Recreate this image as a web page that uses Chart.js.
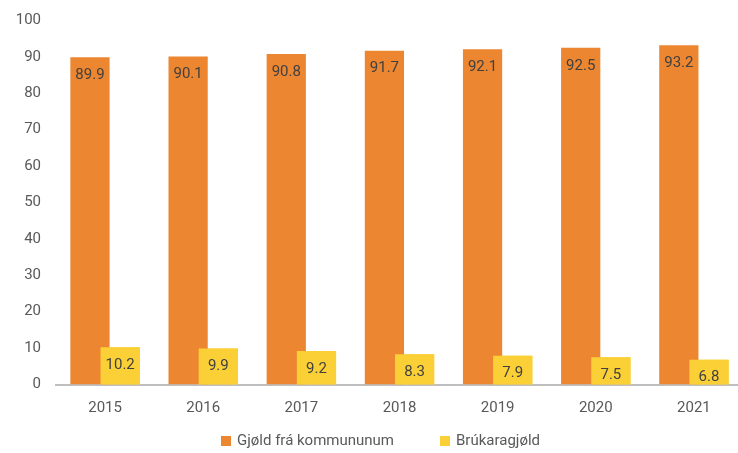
<!DOCTYPE html>
<html>
<head>
<meta charset="utf-8">
<script src="https://cdn.jsdelivr.net/npm/chart.js@4.4.0/dist/chart.umd.min.js"></script>
<style>
  html, body { margin: 0; padding: 0; background: #ffffff; overflow: hidden; }
  #wrap { width: 743px; height: 453px; position: relative; }
</style>
</head>
<body>
<div id="wrap"><canvas id="c"></canvas></div>
<script>
const categories = ["2015", "2016", "2017", "2018", "2019", "2020", "2021"];
const municipalFees = [89.9, 90.1, 90.8, 91.7, 92.1, 92.5, 93.2];
const userFees = [10.2, 9.9, 9.2, 8.3, 7.9, 7.5, 6.8];
const seriesNames = ["Gjøld frá kommununum", "Brúkaragjøld"];
const yTicks = [0, 10, 20, 30, 40, 50, 60, 70, 80, 90, 100];

const ORANGE = "#ec8630";
const YELLOW = "#fad036";
const FONT = "Roboto";

const labelsAndLegend = {
  id: "labelsAndLegend",
  afterDatasetsDraw(chart) {
    const ctx = chart.ctx;
    // second series is drawn on top of the first one
    chart.getDatasetMeta(1).data.forEach(el => el.draw(ctx));
    ctx.save();
    ctx.font = "15px " + FONT;
    ctx.fillStyle = "#404040";
    ctx.textAlign = "center";
    ctx.textBaseline = "middle";
    [0, 1].forEach(di => {
      chart.getDatasetMeta(di).data.forEach((el, i) => {
        const v = chart.data.datasets[di].data[i];
        ctx.fillText(v.toFixed(1), el.x, el.y + 18);
      });
    });
    ctx.restore();
  },
  afterDraw(chart) {
    const ctx = chart.ctx;
    ctx.save();
    ctx.font = "15px " + FONT;
    ctx.textBaseline = "middle";
    ctx.textAlign = "left";
    const starts = [221, 440];
    const y = 441;
    chart.data.datasets.forEach((ds, i) => {
      ctx.fillStyle = ds.backgroundColor;
      ctx.fillRect(starts[i], y - 5, 10, 10);
      ctx.fillStyle = "#595959";
      ctx.fillText(ds.label, starts[i] + 16, y);
    });
    ctx.restore();
  }
};

new Chart(document.getElementById("c"), {
  type: "bar",
  data: {
    labels: categories,
    datasets: [
      { label: seriesNames[0], data: municipalFees, backgroundColor: ORANGE,
        categoryPercentage: 0.615, barPercentage: 1.3 },
      { label: seriesNames[1], data: userFees, backgroundColor: YELLOW,
        categoryPercentage: 0.615, barPercentage: 1.3 }
    ]
  },
  options: {
    responsive: true,
    maintainAspectRatio: false,
    animation: false,
    layout: { padding: { top: 20.5, right: 0, left: 0, bottom: 20.5 } },
    plugins: {
      tooltip: { enabled: false },
      legend: { display: false }
    },
    scales: {
      x: {
        grid: { display: false, drawTicks: false },
        border: { display: true, color: "#bfbfbf", width: 2 },
        ticks: { color: "#595959", font: { family: FONT, size: 15 }, padding: 15 }
      },
      y: {
        min: 0, max: 100,
        afterFit(s) { s.width = 56; s.paddingTop = 0; s.paddingBottom = 0; },
        afterBuildTicks(s) { s.ticks = yTicks.map(v => ({ value: v })); },
        grid: { display: false, drawTicks: false },
        border: { display: false },
        ticks: { color: "#595959", font: { family: FONT, size: 15 }, padding: 15 }
      }
    }
  },
  plugins: [labelsAndLegend]
});
</script>
</body>
</html>
